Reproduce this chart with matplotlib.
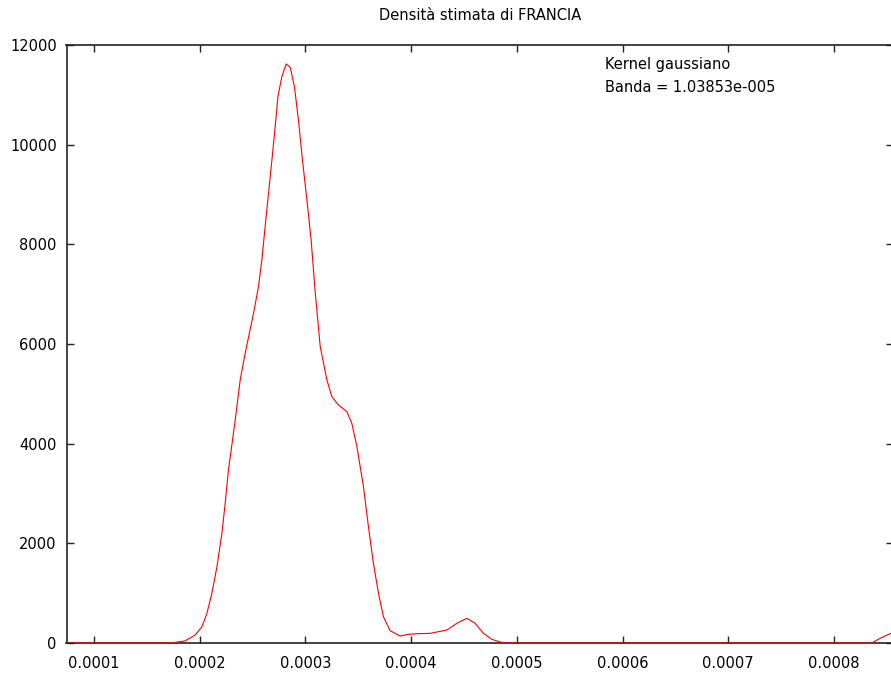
import matplotlib
matplotlib.use('Agg')
import matplotlib.pyplot as plt

# valori (stima kernel della densita)
x_vals = [0.0000740, 0.0001721, 0.0001860, 0.0001957, 0.0002021, 0.0002068, 0.0002115,
          0.0002163, 0.0002210, 0.0002241, 0.0002272, 0.0002304, 0.0002336, 0.0002383,
          0.0002430, 0.0002509, 0.0002556, 0.0002588, 0.0002619, 0.0002651, 0.0002683,
          0.0002714, 0.0002740, 0.0002777, 0.0002818, 0.0002856, 0.0002896, 0.0002934,
          0.0002972, 0.0003014, 0.0003054, 0.0003092, 0.0003140, 0.0003203, 0.0003250,
          0.0003313, 0.0003392, 0.0003439, 0.0003487, 0.0003549, 0.0003596, 0.0003643,
          0.0003691, 0.0003738, 0.0003801, 0.0003896, 0.0003974, 0.0004069, 0.0004180,
          0.0004338, 0.0004432, 0.0004527, 0.0004605, 0.0004684, 0.0004763, 0.0004842,
          0.0004905, 0.0008357, 0.0008436, 0.0008537, 0.000856]
y_vals = [0, 0, 40, 160, 327, 595, 996,
          1530, 2200, 2803, 3472, 3970, 4475, 5278,
          5813, 6615, 7150, 7686, 8355, 9023, 9692,
          10361, 10964, 11365, 11619, 11553, 11165, 10495,
          9692, 8890, 8087, 7050, 5947, 5278, 4944,
          4776, 4642, 4408, 3940, 3137, 2334, 1599,
          997, 528, 247, 140, 174, 187, 194,
          261, 395, 495, 395, 194, 74, 20,
          0, 0, 94, 194, 225]

x_ticks = [0.0001, 0.0002, 0.0003, 0.0004, 0.0005, 0.0006, 0.0007, 0.0008]
x_labels = ['0.0001', '0.0002', '0.0003', '0.0004', '0.0005', '0.0006', '0.0007', '0.0008']
y_ticks = [0, 2000, 4000, 6000, 8000, 10000, 12000]

plt.rcParams['font.family'] = 'DejaVu Sans'
fig = plt.figure(figsize=(8.91, 6.75), dpi=100)
ax = fig.add_axes([66.5 / 891, 32 / 675, (893 - 66.5) / 891, 598 / 675])

ax.plot(x_vals, y_vals, color='red', linewidth=0.8, zorder=3)

ax.set_xlim(0.0000740, 0.0008558)
ax.set_ylim(0, 12000)
ax.set_xticks(x_ticks)
ax.set_xticklabels(x_labels)
ax.set_yticks(y_ticks)
ax.tick_params(direction='in', length=5, width=1, color='#222222',
               top=True, right=True, labelsize=10.5)
ax.tick_params(axis='x', pad=9)
ax.tick_params(axis='y', pad=7)
for s in ax.spines.values():
    s.set_linewidth(1.2)
    s.set_color('#222222')

ax.set_title('Densità stimata di FRANCIA', fontsize=10.5, pad=18)
fig.text(605 / 891, 1 - 64 / 675, 'Kernel gaussiano', fontsize=10.5, va='center')
fig.text(605 / 891, 1 - 87 / 675, 'Banda = 1.03853e-005', fontsize=10.5, va='center')

fig.savefig('out.png', dpi=100)
